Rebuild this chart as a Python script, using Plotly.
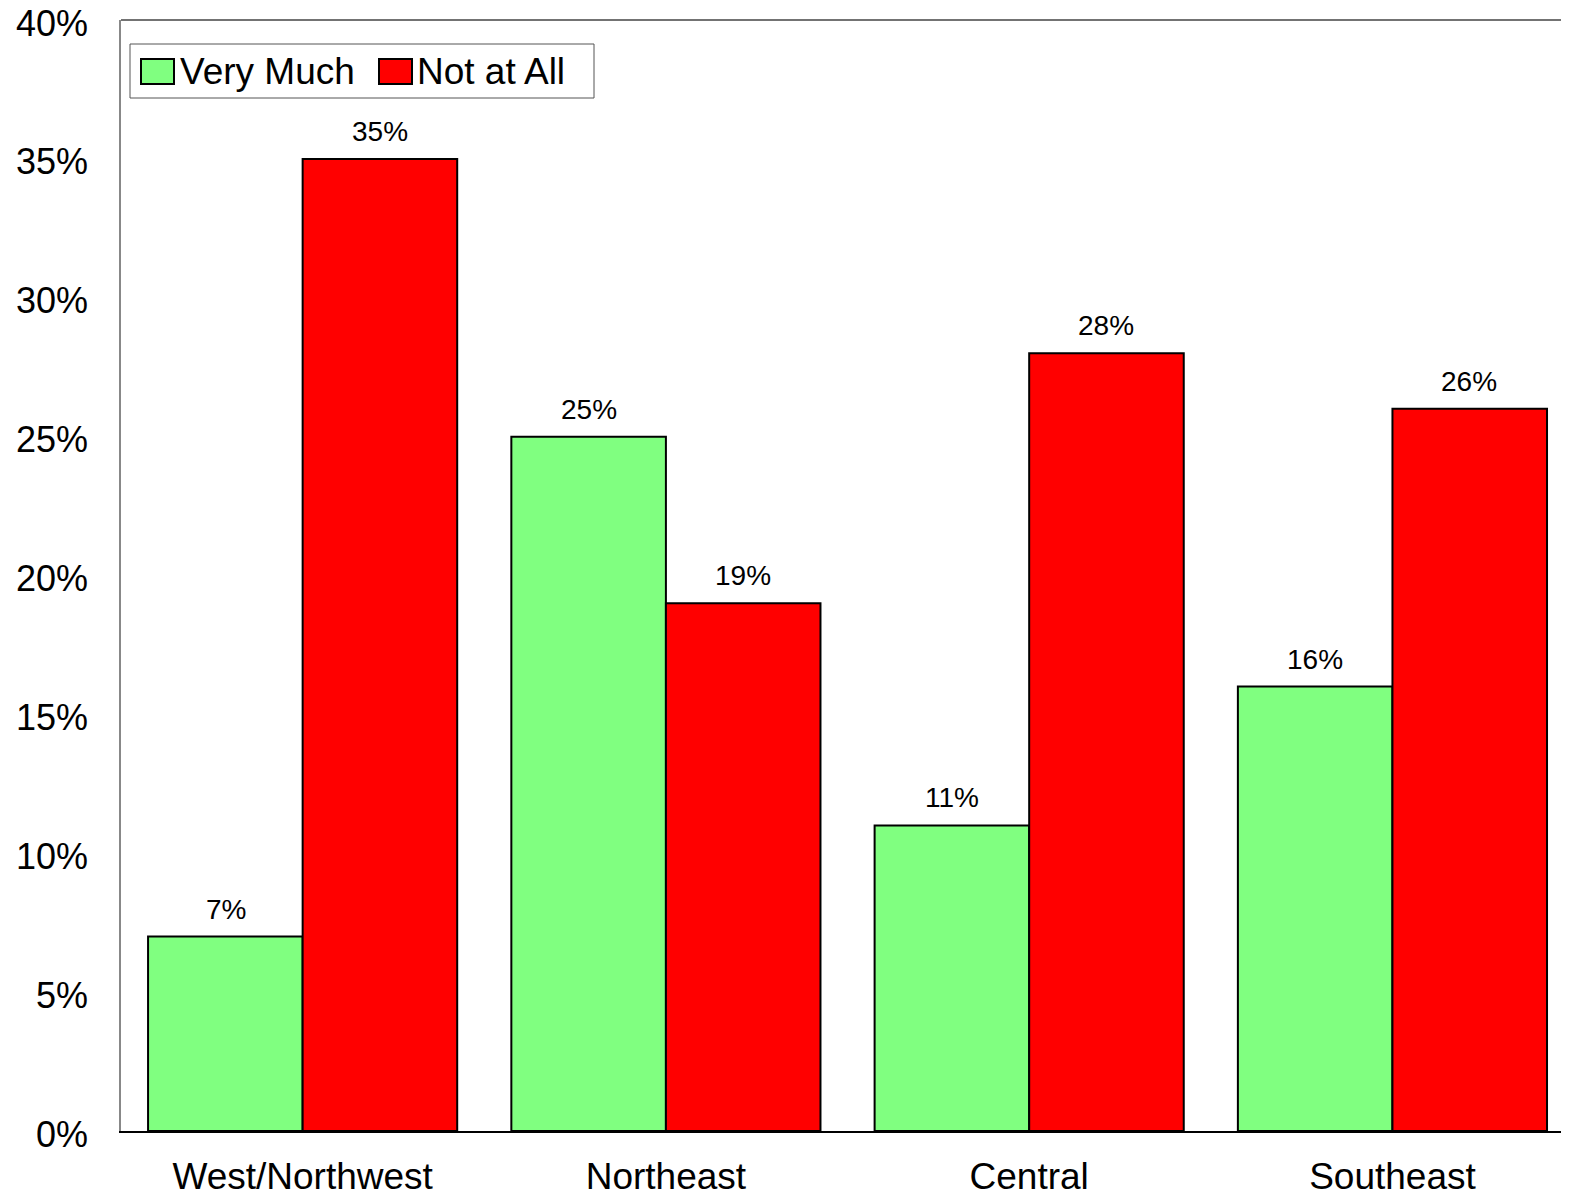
import plotly.graph_objects as go

# Regions and shares (percent)
regions = ["West/Northwest", "Northeast", "Central", "Southeast"]
very_much = [7, 25, 11, 16]
not_at_all = [35, 19, 28, 26]
y_ticks = [0, 5, 10, 15, 20, 25, 30, 35, 40]
series_names = ["Very Much", "Not at All"]
series_colors = ["#80FF80", "#FF0000"]

FONT = "Arial, Liberation Sans, sans-serif"

# plot area in page pixels (page adds an 8px body margin)
PX0, PX1, PY0, PY1 = 121, 1569, 20, 1131


def dx(px):
    return (px - PX0) / (PX1 - PX0)


def dy(py):
    return (PY1 - py) / (PY1 - PY0)


fig = go.Figure()
for name, vals, col in zip(series_names, [very_much, not_at_all], series_colors):
    fig.add_trace(go.Bar(x=regions, y=vals, name=name, showlegend=False,
                         marker=dict(color=col, line=dict(color="black", width=2))))

# value labels above the bars
for series, shift in ((very_much, -77), (not_at_all, 77)):
    for reg, v in zip(regions, series):
        fig.add_annotation(x=reg, y=v, text=f"{v}%", showarrow=False,
                           xshift=shift, yshift=10, yanchor="bottom",
                           font=dict(size=28, color="black", family=FONT))

# top border of the plot area
fig.add_shape(type="line", xref="x domain", yref="y domain", x0=0, x1=1, y0=1, y1=1,
              line=dict(color="#444444", width=1.5))

# legend drawn by hand (box, swatches, names)
fig.add_shape(type="rect", xref="x domain", yref="y domain",
              x0=dx(130), x1=dx(594), y0=dy(98), y1=dy(44),
              line=dict(color="#555555", width=1), fillcolor="white")
for name, col, sx, tx in zip(series_names, series_colors, [141, 379], [178, 415]):
    fig.add_shape(type="rect", xref="x domain", yref="y domain",
                  x0=dx(sx), x1=dx(sx + 33), y0=dy(84), y1=dy(59),
                  line=dict(color="black", width=2), fillcolor=col)
    fig.add_annotation(xref="x domain", yref="y domain", x=dx(tx), y=dy(72),
                       text=name, showarrow=False, xanchor="left", yanchor="middle",
                       font=dict(size=37, color="black", family=FONT))

fig.update_layout(
    width=1561, height=1188,
    margin=dict(l=113, r=0, t=12, b=65, autoexpand=False),
    paper_bgcolor="white", plot_bgcolor="white",
    font=dict(family=FONT, color="black"),
    barmode="group", bargap=0.149, bargroupgap=0,
    xaxis=dict(range=[-0.5, 3.486], showline=True, linecolor="black", linewidth=1.5,
               showgrid=False, ticks="", tickfont=dict(size=37), ticklabelstandoff=12,
               automargin=False),
    yaxis=dict(range=[0, 40], tickvals=y_ticks, ticktext=[f"{t}%" for t in y_ticks],
               showline=True, linecolor="#888888", linewidth=1.5, showgrid=False,
               zeroline=False, ticks="", tickfont=dict(size=36), ticklabelstandoff=24,
               ticklabelshift=3, ticklabeloverflow="allow", automargin=False),
)

fig.write_html("out.html")
